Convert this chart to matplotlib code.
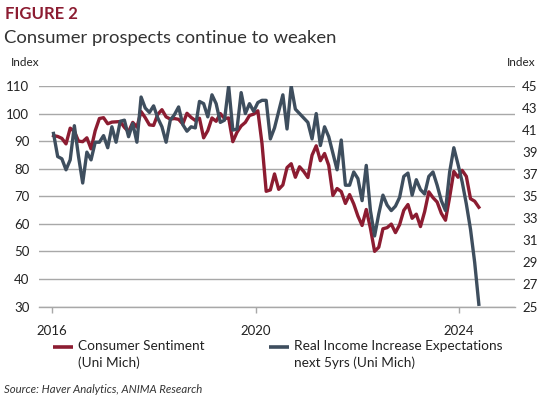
import matplotlib
matplotlib.use("Agg")
import matplotlib.pyplot as plt
from matplotlib.lines import Line2D
import numpy as np

# ---- data ----
years_ticks = ["2016", "2020", "2024"]
tick_pos = [-0.36, 48.5, 97.3]  # month-index positions of year ticks

# University of Michigan consumer sentiment, Jan 2016 - Jul 2024
sentiment = [
    92.0, 91.7, 91.0, 89.0, 94.7, 93.5, 90.0, 89.8, 91.2, 87.2, 93.8, 98.2,
    98.5, 96.3, 96.9, 97.0, 97.1, 95.0, 93.4, 96.8, 95.1, 100.7, 98.5, 95.9,
    95.7, 99.7, 101.4, 98.8, 98.0, 98.2, 97.9, 96.2, 100.1, 98.6, 97.5, 98.3,
    91.2, 93.8, 98.4, 97.2, 100.0, 98.2, 98.4, 89.8, 93.2, 95.5, 96.8, 99.3,
    99.8, 101.0, 89.1, 71.8, 72.3, 78.1, 72.5, 74.1, 80.4, 81.8, 76.9, 80.7,
    79.0, 76.8, 84.9, 88.3, 82.9, 85.5, 81.2, 70.3, 72.8, 71.7, 67.4, 70.6,
    67.2, 62.8, 59.4, 65.2, 58.4, 50.0, 51.5, 58.2, 58.6, 59.9, 56.8, 59.7,
    64.9, 67.0, 62.0, 63.5, 59.0, 64.4, 71.6, 69.5, 67.9, 63.8, 61.3, 69.7,
    79.0, 76.9, 79.4, 77.2, 69.1, 68.2, 66.0,
]

# Real income increase expectations next 5yrs (right axis)
income_exp = [
    40.7, 38.6, 38.4, 37.4, 38.3, 41.4, 38.6, 36.2, 39.0, 38.3, 39.9, 39.9,
    40.5, 39.4, 41.3, 39.9, 41.8, 41.9, 40.4, 41.6, 39.9, 44.0, 43.0, 42.6,
    43.2, 42.1, 41.3, 39.9, 41.9, 42.4, 43.1, 41.5, 40.9, 41.3, 41.2, 43.6,
    43.4, 42.2, 44.2, 43.4, 41.7, 41.9, 45.0, 41.0, 41.1, 44.4, 42.5, 43.4,
    42.7, 43.5, 43.7, 43.7, 40.2, 41.2, 42.7, 44.2, 41.1, 45.0, 42.9, 42.5,
    42.1, 41.7, 40.2, 42.5, 39.6, 41.3, 40.4, 38.9, 37.4, 40.1, 36.0, 36.0,
    37.2, 36.6, 34.6, 37.8, 33.7, 31.4, 33.4, 35.1, 34.2, 33.7, 34.1, 34.9,
    36.8, 37.1, 35.1, 36.5, 35.6, 35.2, 36.8, 37.2, 36.0, 34.6, 33.7, 37.2,
    39.4, 37.9, 36.3, 34.3, 32.0, 29.0, 25.2,
]

labels = ["Consumer Sentiment\n(Uni Mich)",
          "Real Income Increase Expectations\nnext 5yrs (Uni Mich)"]

months = np.arange(len(sentiment))

RED = "#8C1C31"
BLUE = "#3E4E5E"
GRID = "#A8A8A8"
TXT = "#222222"

plt.rcParams["font.family"] = ["Lato", "DejaVu Sans"]

W, H = 550, 397
fig = plt.figure(figsize=(W / 100, H / 100), dpi=100)

def fx(px):
    return px / W

def fy(py):
    return 1 - py / H

ax = fig.add_axes([fx(39), fy(306.5), fx(515) - fx(39), fy(86) - fy(306.5)])
ax2 = ax.twinx()

ax.set_xlim(-3.48, 110.67)
ax.set_ylim(30, 110)
ax2.set_ylim(25, 45)

ax.set_yticks(np.arange(30, 111, 10))
ax2.set_yticks(np.arange(25, 46, 2))
ax.yaxis.grid(True, color=GRID, lw=1.0)
ax.set_axisbelow(True)

for a in (ax, ax2):
    for s in a.spines.values():
        s.set_visible(False)
ax.spines["bottom"].set_visible(True)
ax.spines["bottom"].set_color(GRID)
ax.spines["bottom"].set_linewidth(1.0)

ax.set_xticks(tick_pos)
ax.set_xticklabels(years_ticks)
ax.tick_params(axis="x", length=4, width=1, color=GRID, pad=9, labelsize=9.5, labelcolor=TXT)
ax.tick_params(axis="y", length=0, pad=7, labelsize=9.5, labelcolor=TXT)
ax2.tick_params(axis="y", length=0, pad=5, labelsize=9.5, labelcolor=TXT)

ax.plot(months, sentiment, color=RED, lw=2.4, solid_joinstyle="round", zorder=3)
ax2.plot(months, income_exp, color=BLUE, lw=2.4, solid_joinstyle="round", zorder=4)
ax2.set_zorder(ax.get_zorder() + 1)
ax.patch.set_visible(False)

# Titles and labels
fig.text(fx(5), fy(19), "FIGURE 2", color=RED, fontsize=12, fontweight="bold",
         ha="left", va="baseline")
fig.text(fx(4), fy(43), "Consumer prospects continue to weaken", color="#333333",
         fontsize=13.3, fontweight="normal", ha="left", va="baseline")
fig.text(fx(11), fy(66), "Index", color=TXT, fontsize=8.5, ha="left", va="baseline")
fig.text(fx(535), fy(66), "Index", color=TXT, fontsize=8.5, ha="right", va="baseline")

# Legend (manual, handle aligned with first text line)
for (hx0, hx1, tx), col, lab in zip([(53, 73, 77.5), (269, 289, 294.5)], [RED, BLUE], labels):
    fig.add_artist(Line2D([fx(hx0), fx(hx1)], [fy(347), fy(347)], transform=fig.transFigure,
                          color=col, lw=2.6, solid_capstyle="butt"))
    fig.text(fx(tx), fy(340.5), lab, color=TXT, fontsize=9.8, ha="left", va="top",
             linespacing=1.4)

fig.text(fx(4), fy(393), "Source: Haver Analytics, ANIMA Research", color="#333333",
         fontsize=8.2, style="italic", ha="left", va="baseline")

fig.savefig("out.png", dpi=100)
